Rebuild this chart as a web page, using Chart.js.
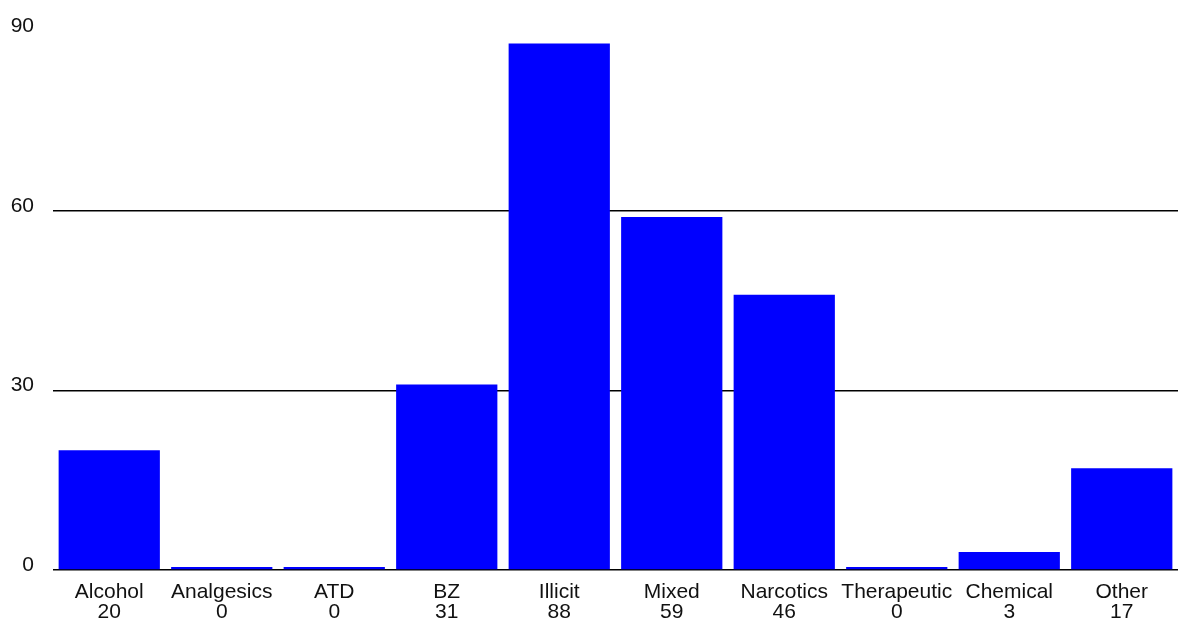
<!DOCTYPE html>
<html>
<head>
<meta charset="utf-8">
<script src="https://cdn.jsdelivr.net/npm/chart.js@4/dist/chart.umd.min.js"></script>
<style>
  html, body { margin: 0; padding: 0; background: #fff; }
  #wrap { width: 1178px; height: 625px; }
</style>
</head>
<body>
<div id="wrap"><canvas id="chart"></canvas></div>
<script>
// 类别和数值
const categories = ['Alcohol', 'Analgesics', 'ATD', 'BZ', 'Illicit', 'Mixed', 'Narcotics', 'Therapeutic', 'Chemical', 'Other'];
const counts = [20, 0, 0, 31, 88, 59, 46, 0, 3, 17];
const yTicks = [0, 30, 60, 90];

// 两行标签: 名称 + 数值
const labels = categories.map((c, i) => [c, String(counts[i])]);

const ctx = document.getElementById('chart').getContext('2d');
new Chart(ctx, {
    type: 'bar',
    data: {
        labels: labels,
        datasets: [{
            data: counts,
            backgroundColor: '#0000ff',
            borderWidth: 0,
            barPercentage: 0.9,
            categoryPercentage: 1.0,
            minBarLength: 3
        }]
    },
    options: {
        responsive: true,
        maintainAspectRatio: false,
        animation: false,
        layout: {
            padding: { left: 10, right: 0, top: 13, bottom: 0 }
        },
        plugins: {
            legend: { display: false },
            tooltip: { enabled: false }
        },
        scales: {
            x: {
                grid: { display: false, drawTicks: false },
                border: { display: false },
                afterFit: axis => { axis.height = 55; },
                ticks: {
                    color: '#111',
                    padding: 12,
                    maxRotation: 0,
                    autoSkip: false,
                    font: { family: 'Liberation Sans, Arial, sans-serif', size: 21, lineHeight: 0.95 }
                }
            },
            y: {
                min: 0,
                max: 90,
                afterBuildTicks: axis => {
                    axis.ticks = yTicks.map(v => ({ value: v }));
                },
                afterFit: axis => { axis.width = 43; },
                grid: {
                    drawTicks: false,
                    lineWidth: 1.5,
                    color: c => c.tick && c.tick.value === 90 ? 'rgba(0,0,0,0)' : '#000'
                },
                border: { display: false },
                ticks: {
                    color: '#111',
                    padding: 19,
                    labelOffset: -5,
                    font: { family: 'Liberation Sans, Arial, sans-serif', size: 21 }
                }
            }
        }
    }
});
</script>
</body>
</html>
